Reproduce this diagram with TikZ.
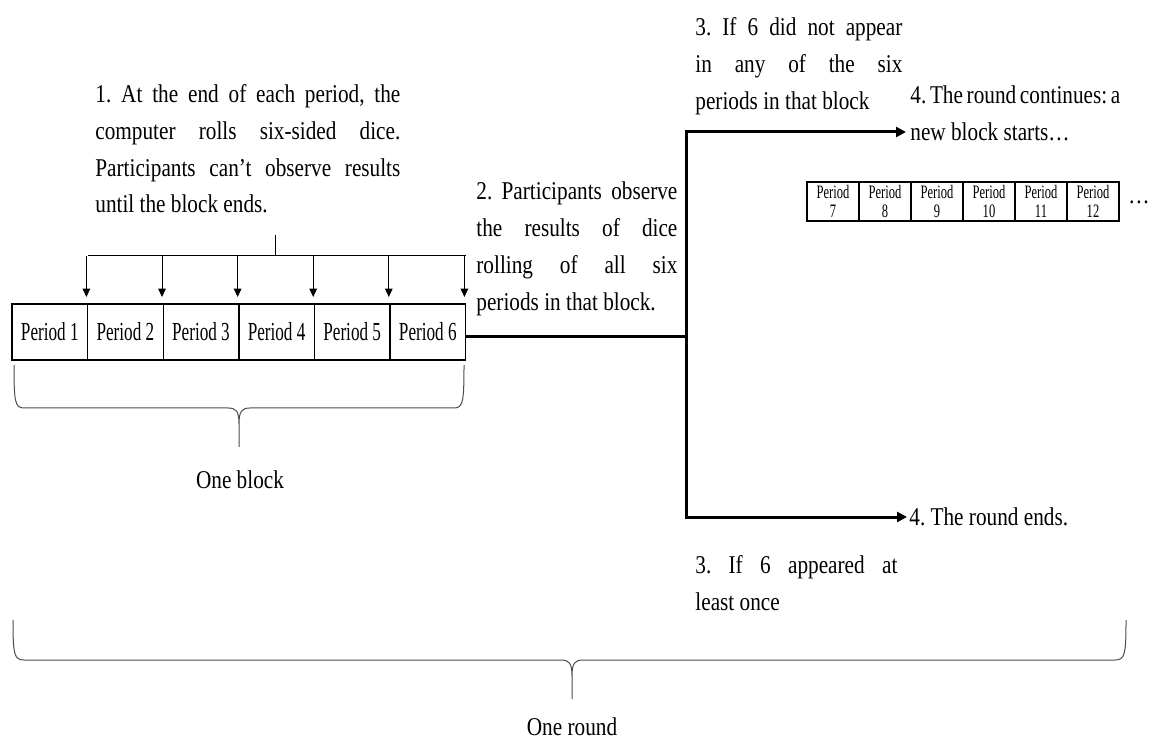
\documentclass[tikz,border=0pt]{standalone}
\usepackage{fontspec}
\setmainfont{Liberation Serif}[FakeStretch=0.83]
\newfontfamily\cellfont{Liberation Serif}[FakeStretch=0.66]
\usetikzlibrary{arrows.meta,positioning,calc}
\frenchspacing
\tikzset{
  thinarr/.style={-{Triangle[length=4.2pt,width=3.8pt]}, line width=0.5pt},
  mainarr/.style={-{Triangle[length=5pt,width=5pt]}, line width=1.5pt},
  mainline/.style={line width=1.5pt},
  bracket/.style={line width=0.5pt, black!70},
  cell/.style={draw, line width=0.7pt, minimum width=37.8pt, minimum height=28pt,
    inner sep=0pt, outer sep=0pt, font=\cellfont\fontsize{13}{14}\selectfont},
  smallcell/.style={draw, line width=0.6pt, minimum width=26pt, minimum height=19.5pt,
    inner sep=0pt, outer sep=0pt, align=center, font=\cellfont\fontsize{9.5}{9.5}\selectfont},
  para/.style={inner sep=0pt, anchor=north west, align=justify,
    font=\fontsize{12.8}{18.4}\selectfont},
  lab/.style={inner sep=0pt, font=\fontsize{12.8}{18.4}\selectfont},
}

\begin{document}
\begin{tikzpicture}[x=0.5pt,y=-0.5pt]
\useasboundingbox (0,0) rectangle (1150,742);

% ===================== first block: periods 1--6 ============================
\node[cell, anchor=west] (p1) at (12,332) {Period 1};
\foreach \i [remember=\i as \j (initially 1)] in {2,...,6}
  \node[cell, right=0pt of p\j] (p\i) {Period \i};

% dice rolls at the end of each period
\node[para, text width=152.5pt] (roll) at (95,84)
  {1. At the end of each period, the\linebreak computer rolls six-sided dice.\linebreak
   Participants can’t observe results\linebreak until the block ends.};
\coordinate (stub) at (275,235);
\coordinate (bar) at (275,256);
\draw[line width=0.5pt] (stub) -- (bar);
\draw[line width=0.5pt] (p1.north east |- bar) -- (p6.north east |- bar);
\foreach \i in {1,...,6}
  \draw[thinarr] ([xshift=-0.6pt]p\i.north east |- bar) -- ([xshift=-0.6pt,yshift=3.5pt]p\i.north east);

% brace under the block
\draw[bracket] (14,365) .. controls (14,402) and (15,408) .. (24,408) -- (228,408)
  .. controls (236,408) and (239,411) .. (239,424) -- (239,447)
  (239,424) .. controls (239,411) and (242,408) .. (250,408) -- (454,408)
  .. controls (463,408) and (464,402) .. (464,365);
\node[lab] (block) at (240,480) {One block};

% ===================== observation and the two branches =====================
\node[para, text width=100.5pt] (observe) at (476,181.5)
  {2. Participants observe\linebreak the results of dice\linebreak
   rolling of all six\linebreak periods in that block.};
\coordinate (fork) at (686,337);
\coordinate (forkup) at (686,132);
\draw[mainline] ([yshift=-2.5pt]p6.east) -- (fork);

\node[para, text width=103.5pt] (nosix) at (695,17.5)
  {3. If 6 did not appear\linebreak in any of the six\linebreak periods in that block};
\node[para, text width=105pt] (cont) at (910,85.5)
  {4. The round continues: a\linebreak new block starts…};
\draw[mainarr] (fork) |- ([xshift=-2pt]cont.west |- forkup);

\node[lab, anchor=west] (ends) at (909,517) {4. The round ends.};
\draw[mainarr] (fork) |- ([xshift=-1pt]ends.west);
\node[para, text width=101pt] (sixon) at (695,555.5)
  {3. If 6 appeared at\linebreak least once};

% ===================== next block: periods 7--12 ============================
\node[smallcell, anchor=west] (q7) at (807,201.5) {Period\\7};
\foreach \i [remember=\i as \j (initially 7)] in {8,...,12}
  \node[smallcell, right=0pt of q\j] (q\i) {Period\\\i};
\node[lab, anchor=base west] (more) at ([xshift=4.5pt,yshift=-1pt]q12.east) {…};

% ===================== brace under the whole round ==========================
\draw[bracket] (13,620) .. controls (13,654) and (14,660) .. (24,660) -- (561,660)
  .. controls (569,660) and (572,663) .. (572,676) -- (572,699)
  (572,676) .. controls (572,663) and (575,660) .. (583,660) -- (1115,660)
  .. controls (1125,660) and (1126,654) .. (1126,620);
\node[lab] (round) at (572,727) {One round};

\end{tikzpicture}
\end{document}
